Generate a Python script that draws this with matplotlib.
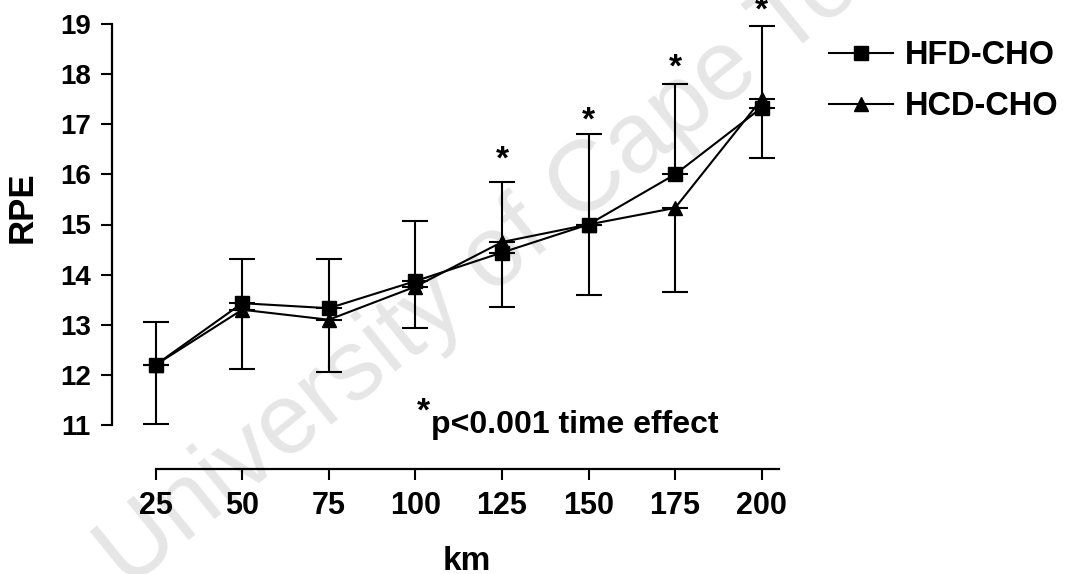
import numpy as np
import matplotlib
matplotlib.use('Agg')
import matplotlib.pyplot as plt

plt.rcParams['font.family'] = ['Liberation Sans', 'DejaVu Sans']
plt.rcParams['font.weight'] = 'bold'

# Data
km = [25, 50, 75, 100, 125, 150, 175, 200]
hfd = [12.2, 13.43, 13.33, 13.87, 14.44, 15.0, 16.0, 17.33]
hcd = [12.2, 13.3, 13.1, 13.76, 14.65, 15.0, 15.33, 17.5]
hfd_err_up = [0.85, 0.89, 0.99, 1.19, 1.41, 1.8, 1.8, 1.64]
hcd_err_down = [1.19, 1.19, 1.05, 0.82, 1.3, 1.41, 1.67, 1.18]
sig_km = [125, 150, 175, 200]
sig_y = [16.48, 17.27, 18.33, 19.45]
yticks = [11, 12, 13, 14, 15, 16, 17, 18, 19]

W, H = 1083, 574
fig = plt.figure(figsize=(W / 100, H / 100), dpi=100)

# watermark behind everything
fig.text(128 / W, (H - 590) / H, 'University of Cape Town', fontsize=72,
         fontweight='normal', color='#e6e6e6', rotation=39,
         rotation_mode='anchor', ha='left', va='baseline', zorder=-5)

ax = fig.add_axes([155.6 / W, (H - 425) / H, (779 - 155.6) / W, (425 - 24) / H])
ax.patch.set_visible(False)

zeros = np.zeros(len(km))
ax.errorbar(km, hfd, yerr=[zeros, hfd_err_up], fmt='none', ecolor='black',
            elinewidth=1.5, capsize=9.5, capthick=1.5, clip_on=False, zorder=2)
ax.errorbar(km, hcd, yerr=[hcd_err_down, zeros], fmt='none', ecolor='black',
            elinewidth=1.5, capsize=9.5, capthick=1.5, clip_on=False, zorder=2)
l1, = ax.plot(km, hfd, color='black', lw=1.5, marker='s', ms=9.5,
              clip_on=False, zorder=3, label='HFD-CHO')
l2, = ax.plot(km, hcd, color='black', lw=1.5, marker='^', ms=10,
              clip_on=False, zorder=3, label='HCD-CHO')

for x, y in zip(sig_km, sig_y):
    ax.text(x, y - 0.2, '*', fontsize=24, ha='center', va='center', clip_on=False)

ax.set_xlim(25, 205)
ax.set_ylim(11, 19)
ax.set_xticks(km)
ax.set_yticks(yticks)

for s in ['top', 'right']:
    ax.spines[s].set_visible(False)
ax.spines['left'].set_position(('outward', 31.7))
ax.spines['bottom'].set_position(('outward', 31.7))
ax.spines['left'].set_bounds(11, 19)
ax.spines['bottom'].set_bounds(25, 205)
for s in ['left', 'bottom']:
    ax.spines[s].set_linewidth(1.6)

ax.tick_params(axis='both', direction='out', length=8, width=1.5)
ax.tick_params(axis='y', labelsize=20, pad=7)
ax.tick_params(axis='x', labelsize=22, pad=8)
for lab in ax.get_xticklabels() + ax.get_yticklabels():
    lab.set_fontweight('bold')

fig.text(22.5 / W, (H - 207) / H, 'RPE', fontsize=25, rotation=90,
         ha='center', va='center')
fig.text(467 / W, (H - 570) / H, 'km', fontsize=24, ha='center', va='baseline')

fig.text(423 / W, (H - 412) / H, '*', fontsize=24, ha='center', va='center')
fig.text(431 / W, (H - 433) / H, 'p<0.001 time effect', fontsize=23,
         ha='left', va='baseline')

leg = fig.legend(handles=[l1, l2], loc='upper left',
                 bbox_to_anchor=(829 / W, (H - 40) / H), frameon=False,
                 fontsize=23.5, handlelength=1.95, handletextpad=0.38,
                 labelspacing=0.62, borderpad=0, borderaxespad=0)
for t in leg.get_texts():
    t.set_fontweight('bold')

fig.savefig('out.png', dpi=100)
